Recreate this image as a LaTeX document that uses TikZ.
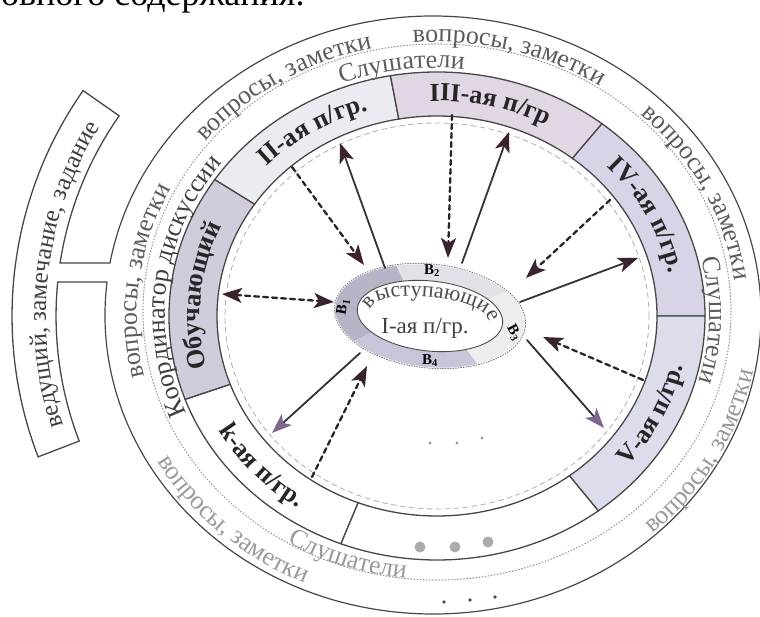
\documentclass[tikz,border=0pt]{standalone}
\usepackage{fontspec}
\setmainfont{Liberation Serif}
\usetikzlibrary{arrows.meta,decorations.text}
\definecolor{lineGray}{HTML}{474747}
\definecolor{txtGray}{HTML}{5C5C5C}
\definecolor{txtDark}{HTML}{3E3E3E}
\definecolor{txtLight}{HTML}{9A9A9A}
\definecolor{grpOb}{HTML}{D0CCDC}
\definecolor{grpII}{HTML}{EBEBF2}
\definecolor{grpIII}{HTML}{E0D6E4}
\definecolor{grpIV}{HTML}{D8D3E6}
\definecolor{grpV}{HTML}{DCDDEC}
\definecolor{spkA}{HTML}{B7B4C7}
\definecolor{spkB}{HTML}{E3E1E8}
\definecolor{spkC}{HTML}{EDEDF0}
\definecolor{spkD}{HTML}{C8C4DA}
\definecolor{tipDark}{HTML}{3B2230}
\definecolor{tipPurple}{HTML}{7D6790}
\newcommand{\bandtxt}{\fontsize{26}{30}\selectfont\color{txtGray}}
\newcommand{\lighttxt}{\fontsize{26}{30}\selectfont\color{txtLight}}
\newcommand{\grptxt}{\fontsize{26}{30}\selectfont\bfseries\color{black!85}}

\begin{document}
\begin{tikzpicture}[x=1pt,y=1pt,line cap=round,
  ringtext/.style={decorate,decoration={text along path,text align=center,text={#1}}},
  ringline/.style={draw=lineGray,line width=1.3pt},
  solidarr/.style={draw=black!80,line width=1.8pt,-{Stealth[length=20pt,width=15pt,inset=5pt,color=#1]}},
  solidarr/.default=tipDark,
  dasharr/.style={draw=black!85,line width=2.3pt,dash pattern=on 5pt off 4pt,-{Stealth[length=20pt,width=15pt,inset=5pt,color=#1]}},
  dasharr/.default=tipDark]
\useasboundingbox (-437,-301) rectangle (323,316);

%% cut-off line of the page above
\node[anchor=base west,inner sep=0pt,font=\fontsize{36}{40}\selectfont] (pagetext) at (-436,310) {овного содержания.};

%% outer boundary, open where the side box joins
\coordinate (stemA) at (-327,53);
\coordinate (stemB) at (-330,34);
\begin{scope}[shift={(-4,1)}]
\draw[lineGray,line width=1.2pt] (173.7:328 and 299) arc[start angle=173.7,end angle=530,x radius=328,y radius=299];
\end{scope}

%% side box (T shape)
\coordinate (tA) at (-376.9,53);
\coordinate (tB) at (-379.3,34);
\draw[lineGray,line width=1.3pt,fill=white] (stemA) -- (tA)
  arc[start angle=171.26,end angle=145,radius=349] -- ++(145:44)
  arc[start angle=145,end angle=201,radius=393] -- ++(21:44)
  arc[start angle=201,end angle=174.41,radius=349] -- (stemB);
\begin{scope}[shift={(-32,0)}]
\path[ringtext={|\fontsize{25}{30}\selectfont\color{txtDark}|ведущий, замечание, задание}]
  (245:359) arc[start angle=245,end angle=101,radius=359];
\end{scope}

%% dotted circle
\draw[gray!80,line width=1.1pt,dash pattern=on 0.9pt off 2.2pt] (0,4) ellipse[x radius=294,y radius=268];

%% group ring (7 segments)
\foreach \a/\b/\c in {146/200/grpOb,100/146/grpII,52/100/grpIII,0/52/grpIV,-53/0/grpV,200/249/white,249/307/white}
  \filldraw[ringline,fill=\c] (\a:268 and 244) arc[start angle=\a,end angle=\b,x radius=268,y radius=244]
    -- (\b:220 and 200) arc[start angle=\b,end angle=\a,x radius=220,y radius=200] -- cycle;
\draw[gray!65,line width=0.8pt,dash pattern=on 5pt off 4pt] (0,0) ellipse[x radius=212,y radius=193];

%% speakers ellipse
\begin{scope}[shift={(-7,0)},rotate=-6]
\foreach \a/\b/\c in {114/220/spkA,40/114/spkB,-57/40/spkC,220/303/spkD}
  \fill[\c] (\a:95 and 51) arc[start angle=\a,end angle=\b,x radius=95,y radius=51]
    -- (\b:73 and 35) arc[start angle=\b,end angle=\a,x radius=73,y radius=35] -- cycle;
\draw[gray,line width=0.9pt,dash pattern=on 1pt off 1.6pt] (0,0) ellipse[x radius=96,y radius=52];
\draw[black!70,line width=0.9pt,fill=white] (0,0) ellipse[x radius=73,y radius=35];
\path[ringtext={|\fontsize{22}{26}\selectfont\color{black!70}|выступающие}]
  (188:59 and 19) arc[start angle=188,end angle=-8,x radius=59,y radius=19];
\end{scope}
\node[font=\fontsize{23}{26}\selectfont,text=black!75] (spk) at (-12,-12) {I-ая п/гр.};
\node[font=\fontsize{15}{16}\selectfont\bfseries,rotate=80] (b1) at (-94,9) {В\textsubscript{1}};
\node[font=\fontsize{15}{16}\selectfont\bfseries] (b2) at (-5,45) {В\textsubscript{2}};
\node[font=\fontsize{15}{16}\selectfont\bfseries,rotate=-62] (b3) at (77,-17) {В\textsubscript{3}};
\node[font=\fontsize{15}{16}\selectfont\bfseries] (b4) at (-7,-45) {В\textsubscript{4}};

%% arrow ends: v = speakers side, g = group side, q = questions
\coordinate (vII) at (-52,48);   \coordinate (gII) at (-97,173);
\coordinate (gIIq) at (-145,149); \coordinate (vIIq) at (-73,51);
\coordinate (gOb) at (-215,22);  \coordinate (vOb) at (-103,14);
\coordinate (vIII) at (25,53);   \coordinate (gIII) at (72,184);
\coordinate (gIIIq) at (15,201); \coordinate (vIIIq) at (11,58);
\coordinate (gIVq) at (173,116); \coordinate (vIVq) at (89,38);
\coordinate (vIV) at (83,14);    \coordinate (gIV) at (201,58);
\coordinate (gVq) at (206,-64);  \coordinate (vVq) at (106,-21);
\coordinate (vV) at (90,-24);    \coordinate (gV) at (167,-112);
\coordinate (vk) at (-77,-37);   \coordinate (gk) at (-165,-117);
\coordinate (gkq) at (-125,-161); \coordinate (vkq) at (-70,-50);

\draw[solidarr] (vII) -- (gII);
\draw[dasharr] (gIIq) -- (vIIq);
\draw[dasharr,{Stealth[length=20pt,width=15pt,inset=5pt,color=tipDark]}-{Stealth[length=20pt,width=15pt,inset=5pt,color=tipDark]}] (gOb) -- (vOb);
\draw[solidarr] (vIII) -- (gIII);
\draw[dasharr] (gIIIq) -- (vIIIq);
\draw[dasharr] (gIVq) -- (vIVq);
\draw[solidarr] (vIV) -- (gIV);
\draw[dasharr] (gVq) -- (vVq);
\draw[solidarr=tipPurple] (vV) -- (gV);
\draw[solidarr=tipPurple] (vk) -- (gk);
\draw[dasharr] (gkq) -- (vkq);

%% dots
\foreach \x/\y in {-7/-127,20/-127,45/-122}
  \fill[gray!80] (\x,\y) circle (1.7);
\foreach \x/\y in {-17/-231,18/-231,51/-226}
  \fill[gray!65] (\x,\y) circle (5.5);
\foreach \x/\y in {7/-286,33/-284,58/-281}
  \fill[black!70] (\x,\y) circle (1.8);

%% group names on the ring
\path[ringtext={|\grptxt|Обучающий}] (245:237 and 215) arc[start angle=245,end angle=105,x radius=237,y radius=215];
\path[ringtext={|\grptxt|II-ая п/гр.}] (193:237 and 215) arc[start angle=193,end angle=54,x radius=237,y radius=215];
\path[ringtext={|\grptxt|III-ая п/гр}] (146:237 and 215) arc[start angle=146,end angle=6,x radius=237,y radius=215];
\path[ringtext={|\grptxt|IV-ая п/гр.}] (96:237 and 215) arc[start angle=96,end angle=-44,x radius=237,y radius=215];
\path[ringtext={|\grptxt|V-ая п/гр.}] (-95:252 and 230) arc[start angle=-95,end angle=45,x radius=252,y radius=230];
\path[ringtext={|\grptxt|k-ая п/гр.}] (151:252 and 230) arc[start angle=151,end angle=291,x radius=252,y radius=230];

%% listeners / coordinator band
\path[ringtext={|\bandtxt|Слушатели}] (168:272 and 248) arc[start angle=168,end angle=28,x radius=272,y radius=248];
\path[ringtext={|\fontsize{26}{30}\selectfont\color{txtDark}|Координатор дискуссии}] (243:272 and 248) arc[start angle=243,end angle=103,x radius=272,y radius=248];
\path[ringtext={|\bandtxt|Слушатели}] (69:272 and 248) arc[start angle=69,end angle=-71,x radius=272,y radius=248];
\path[ringtext={|\lighttxt|Слушатели}] (180:290 and 264) arc[start angle=180,end angle=320,x radius=290,y radius=264];

%% questions band
\path[ringtext={|\bandtxt|вопросы, заметки}] (135:300 and 274) arc[start angle=135,end angle=15,x radius=300,y radius=274];
\path[ringtext={|\bandtxt|вопросы, заметки}] (183:300 and 274) arc[start angle=183,end angle=63,x radius=300,y radius=274];
\path[ringtext={|\bandtxt|вопросы, заметки}] (233:300 and 274) arc[start angle=233,end angle=113,x radius=300,y radius=274];
\path[ringtext={|\bandtxt|вопросы, заметки}] (86:300 and 274) arc[start angle=86,end angle=-34,x radius=300,y radius=274];
\path[ringtext={|\lighttxt|вопросы, заметки}] (-88:322 and 293) arc[start angle=-88,end angle=32,x radius=322,y radius=293];
\path[ringtext={|\lighttxt|вопросы, заметки}] (166:322 and 293) arc[start angle=166,end angle=286,x radius=322,y radius=293];
\end{tikzpicture}
\end{document}
